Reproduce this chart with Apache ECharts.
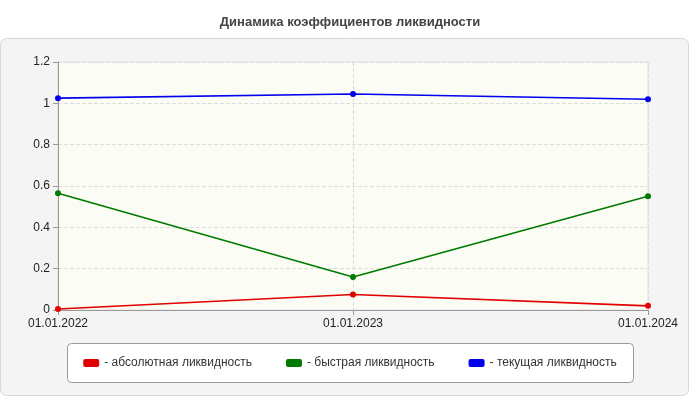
<!DOCTYPE html>
<html><head><meta charset="utf-8">
<script src="https://cdn.jsdelivr.net/npm/echarts@6/dist/echarts.min.js"></script>
<style>html,body{margin:0;padding:0;background:#fff}#c{width:700px;height:400px}</style>
</head><body><div id="c"></div>
<script>
const categories = ['01.01.2022','01.01.2023','01.01.2024'];
const absolute = [0.005, 0.075, 0.02];
const quick = [0.565, 0.16, 0.55];
const current = [1.025, 1.045, 1.02];
const names = ['- абсолютная ликвидность','- быстрая ликвидность','- текущая ликвидность'];
const colors = ['#ff0000','#008000','#0000ff'];
const lineColors = ['#e00000','#007a00','#0000ee'];
const chart = echarts.init(document.getElementById('c'));
const mk = (i, d) => ({
  name: names[i], type: 'line', data: d, symbol: 'circle', symbolSize: 6,
  itemStyle: {color: lineColors[i]}, lineStyle: {color: lineColors[i], width: 1.6}
});
chart.setOption({
  animation: false,
  color: colors,
  graphic: [
    {type: 'rect', z: -10, shape: {x: 0.5, y: 38.5, width: 688, height: 357, r: 6},
     style: {fill: '#f4f4f4', stroke: '#d8d8d8', lineWidth: 1}},
    {type: 'rect', z: -9, shape: {x: 67.5, y: 343.5, width: 566, height: 39, r: 4},
     style: {fill: '#fff', stroke: '#9a9a9a', lineWidth: 1}}
  ],
  title: {text: 'Динамика коэффициентов ликвидности', left: 'center', top: 11,
    textStyle: {fontFamily: 'Arial, Liberation Sans', fontSize: 13, fontWeight: 'bold', color: '#444'}},
  grid: {left: 58, right: 52, top: 62, bottom: 90, show: true, backgroundColor: '#fbfcf4', borderColor: '#e0e0e0'},
  legend: {top: 352, left: 'center', itemGap: 34, itemWidth: 16, itemHeight: 8, icon: 'roundRect',
    textStyle: {fontFamily: 'Arial, Liberation Sans', fontSize: 12, color: '#333'}},
  xAxis: {type: 'category', data: categories, boundaryGap: false,
    axisLine: {lineStyle: {color: '#999'}}, axisTick: {show: true, lineStyle: {color: '#999'}},
    axisLabel: {color: '#222', fontSize: 12, fontFamily: 'Arial, Liberation Sans',
      alignMinLabel: 'center', alignMaxLabel: 'center'},
    splitLine: {show: true, lineStyle: {type: 'dashed', color: '#ddd'}}},
  yAxis: {type: 'value', min: 0, max: 1.2, interval: 0.2,
    axisLine: {show: true, lineStyle: {color: '#999'}}, axisTick: {show: true, lineStyle: {color: '#999'}},
    axisLabel: {color: '#222', fontSize: 12, fontFamily: 'Arial, Liberation Sans', formatter: v => String(+v.toFixed(1))},
    splitLine: {lineStyle: {type: 'dashed', color: '#ddd'}}},
  series: [mk(0, absolute), mk(1, quick), mk(2, current)]
});
</script></body></html>
